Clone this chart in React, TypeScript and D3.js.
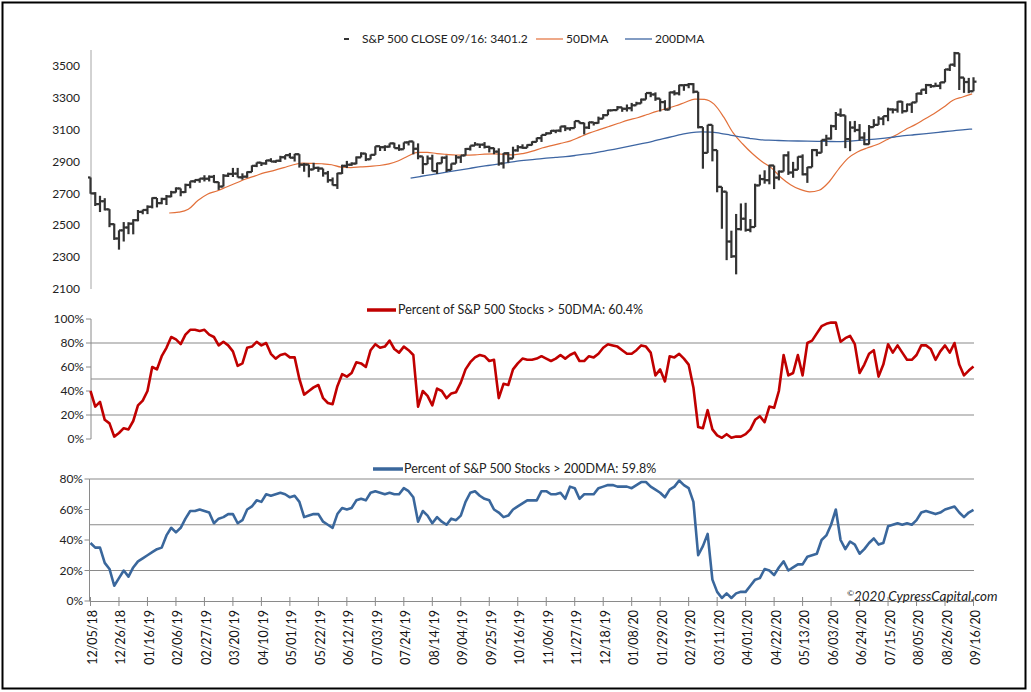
import { useEffect, useRef } from 'react';
import * as d3 from 'd3';

const W = 1031;
const H = 692;
const FONT = 'Lato, "Open Sans", sans-serif';

const startDate = new Date(2018, 11, 5);
const endDate = new Date(2020, 8, 16);

const tickLabels = [
  '12/05/18', '12/26/18', '01/16/19', '02/06/19', '02/27/19', '03/20/19', '04/10/19', '05/01/19',
  '05/22/19', '06/12/19', '07/03/19', '07/24/19', '08/14/19', '09/04/19', '09/25/19', '10/16/19',
  '11/06/19', '11/27/19', '12/18/19', '01/08/20', '01/29/20', '02/19/20', '03/11/20', '04/01/20',
  '04/22/20', '05/13/20', '06/03/20', '06/24/20', '07/15/20', '08/05/20', '08/26/20', '09/16/20',
];

const priceTicks = [2100, 2300, 2500, 2700, 2900, 3100, 3300, 3500];
const pct50Ticks = [0, 20, 40, 60, 80, 100];
const pct200Ticks = [0, 20, 40, 60, 80];
const gridLevels = [20, 50, 80];

// S&P 500, twice a week (Wed / Fri), 12/05/18 .. 09/16/20
const spxClose = [
  2700, 2633, 2651, 2600, 2507, 2417, 2468, 2486, 2510, 2532,
  2584, 2596, 2616, 2671, 2639, 2665, 2681, 2707, 2731, 2708,
  2753, 2776, 2784, 2793, 2792, 2804, 2771, 2743, 2811, 2822,
  2824, 2801, 2805, 2834, 2873, 2893, 2888, 2907, 2900, 2905,
  2927, 2940, 2924, 2946, 2880, 2881, 2850, 2860, 2856, 2826,
  2783, 2752, 2826, 2873, 2880, 2887, 2926, 2950, 2914, 2942,
  2996, 2990, 2993, 3014, 2984, 2977, 3020, 3026, 2980, 2932,
  2884, 2919, 2840, 2889, 2924, 2847, 2887, 2926, 2938, 2979,
  3000, 3007, 3006, 2992, 2984, 2962, 2888, 2952, 2919, 2970,
  2990, 2986, 3004, 3023, 3047, 3067, 3077, 3093, 3094, 3120,
  3108, 3110, 3154, 3141, 3113, 3146, 3142, 3169, 3191, 3221,
  3223, 3240, 3231, 3235, 3253, 3265, 3289, 3330, 3321, 3295,
  3273, 3226, 3334, 3328, 3379, 3380, 3386, 3338, 3116, 2954,
  3130, 2972, 2741, 2711, 2398, 2305, 2476, 2541, 2471, 2489,
  2750, 2790, 2783, 2875, 2799, 2837, 2939, 2831, 2848, 2930,
  2820, 2864, 2972, 2955, 3036, 3044, 3122, 3194, 3190, 3041,
  3113, 3098, 3050, 3009, 3116, 3130, 3169, 3185, 3227, 3225,
  3276, 3216, 3258, 3271, 3327, 3351, 3380, 3373, 3375, 3397,
  3478, 3508, 3580, 3427, 3399, 3341, 3401.2,
];

const spxHigh = [
  2800, 2708, 2685, 2670, 2601, 2510, 2468, 2520, 2519, 2538,
  2596, 2598, 2625, 2675, 2653, 2673, 2690, 2716, 2738, 2727,
  2761, 2776, 2787, 2795, 2814, 2813, 2816, 2772, 2821, 2830,
  2860, 2860, 2826, 2838, 2876, 2894, 2896, 2910, 2921, 2908,
  2936, 2940, 2954, 2948, 2931, 2891, 2860, 2892, 2868, 2843,
  2841, 2800, 2829, 2880, 2904, 2895, 2932, 2958, 2952, 2944,
  2996, 2990, 3002, 3014, 3018, 3007, 3020, 3028, 3026, 3014,
  2898, 2938, 2943, 2893, 2931, 2939, 2888, 2941, 2938, 2985,
  3000, 3022, 3010, 3022, 2999, 2987, 2983, 2953, 2959, 2993,
  3003, 3008, 3008, 3027, 3050, 3067, 3084, 3097, 3098, 3121,
  3127, 3112, 3154, 3151, 3144, 3150, 3143, 3182, 3198, 3226,
  3227, 3248, 3240, 3258, 3268, 3275, 3295, 3330, 3337, 3334,
  3293, 3285, 3338, 3347, 3382, 3381, 3393, 3392, 3260, 3097,
  3131, 3083, 2883, 2711, 2562, 2466, 2571, 2637, 2641, 2539,
  2761, 2818, 2845, 2880, 2868, 2844, 2945, 2964, 2898, 2932,
  2945, 2866, 2978, 2978, 3036, 3068, 3131, 3211, 3233, 3123,
  3153, 3155, 3135, 3084, 3129, 3166, 3184, 3186, 3238, 3233,
  3279, 3279, 3264, 3272, 3330, 3352, 3387, 3387, 3395, 3399,
  3481, 3509, 3588, 3565, 3425, 3425, 3429,
];

const spxLow = [
  2698, 2621, 2583, 2593, 2488, 2408, 2347, 2398, 2444, 2443,
  2525, 2569, 2570, 2606, 2612, 2632, 2627, 2676, 2705, 2682,
  2703, 2732, 2767, 2767, 2775, 2775, 2767, 2722, 2747, 2803,
  2803, 2800, 2786, 2798, 2845, 2865, 2872, 2880, 2897, 2891,
  2897, 2912, 2921, 2900, 2862, 2836, 2801, 2848, 2835, 2805,
  2767, 2750, 2728, 2822, 2859, 2873, 2883, 2931, 2903, 2917,
  2953, 2966, 2966, 2988, 2984, 2967, 2977, 3001, 2945, 2914,
  2822, 2890, 2839, 2822, 2891, 2834, 2856, 2907, 2891, 2960,
  2969, 3002, 2985, 2982, 2957, 2946, 2874, 2856, 2893, 2919,
  2962, 2980, 2990, 3001, 3027, 3023, 3066, 3073, 3078, 3084,
  3091, 3094, 3117, 3139, 3070, 3104, 3126, 3138, 3184, 3191,
  3217, 3227, 3212, 3214, 3215, 3256, 3264, 3301, 3304, 3281,
  3214, 3222, 3235, 3315, 3315, 3344, 3360, 3328, 3108, 2855,
  2977, 2901, 2707, 2478, 2281, 2295, 2192, 2467, 2460, 2456,
  2582, 2762, 2761, 2757, 2727, 2782, 2838, 2816, 2798, 2871,
  2813, 2766, 2915, 2933, 2969, 2997, 3038, 3098, 3180, 2984,
  2965, 3084, 3032, 3003, 3007, 3124, 3137, 3128, 3153, 3202,
  3207, 3201, 3213, 3205, 3284, 3318, 3324, 3362, 3371, 3354,
  3418, 3468, 3494, 3349, 3331, 3329, 3361,
];

// 50-day average, weekly from 02/01/19 to 09/15/20
const dma50Start = new Date(2019, 1, 1);
const dma50End = new Date(2020, 8, 15);
const dma50 = [
  2577, 2582, 2600, 2655, 2695, 2715, 2740, 2765, 2790, 2810,
  2830, 2845, 2862, 2880, 2890, 2888, 2886, 2880, 2865, 2862,
  2866, 2870, 2875, 2885, 2905, 2935, 2958, 2958, 2950, 2945,
  2941, 2940, 2942, 2946, 2948, 2945, 2942, 2950, 2965, 2985,
  3000, 3015, 3030, 3055, 3080, 3100, 3120, 3140, 3160, 3175,
  3195, 3215, 3232, 3250, 3272, 3292, 3290, 3260, 3180, 3080,
  3010, 2950, 2900, 2860, 2800, 2755, 2725, 2710, 2720, 2770,
  2850, 2920, 2960, 2985, 3005, 3035, 3065, 3100, 3130, 3165,
  3200, 3240, 3285, 3305, 3325,
];

// 200-day average, weekly from 07/29/19 to 09/15/20
const dma200Start = new Date(2019, 6, 29);
const dma200End = new Date(2020, 8, 15);
const dma200 = [
  2796, 2806, 2816, 2826, 2836, 2846, 2856, 2866, 2875, 2884,
  2893, 2902, 2909, 2915, 2921, 2926, 2931, 2938, 2946, 2955,
  2966, 2977, 2989, 3002, 3014, 3027, 3042, 3056, 3070, 3082,
  3086, 3085, 3077, 3066, 3055, 3046, 3038, 3034, 3032, 3030,
  3029, 3028, 3027, 3026, 3025, 3027, 3031, 3036, 3041, 3047,
  3054, 3062, 3068, 3074, 3080, 3087, 3093, 3099, 3104,
];

// percent of S&P 500 stocks above their 50DMA (same dates as spxClose)
const pctAbove50 = [
  40, 27, 31, 16, 13, 2, 5, 9, 8, 15,
  28, 32, 40, 60, 58, 69, 76, 85, 83, 79,
  87, 91, 91, 90, 91, 87, 85, 78, 81, 78,
  73, 61, 63, 76, 77, 81, 78, 80, 71, 67,
  70, 71, 68, 68, 50, 37, 40, 43, 45, 34,
  30, 29, 44, 54, 52, 55, 64, 63, 60, 74,
  79, 76, 77, 82, 75, 72, 77, 74, 70, 27,
  40, 36, 28, 42, 40, 34, 38, 39, 47, 58,
  64, 68, 70, 69, 65, 66, 34, 46, 45, 58,
  63, 67, 66, 66, 67, 69, 67, 65, 67, 70,
  67, 70, 72, 65, 65, 69, 68, 71, 76, 79,
  78, 77, 74, 71, 71, 74, 78, 77, 72, 53,
  58, 48, 69, 68, 71, 67, 62, 43, 10, 9,
  24, 8, 3, 1, 4, 1, 2, 2, 4, 8,
  16, 19, 14, 27, 26, 40, 70, 53, 55, 70,
  53, 80, 82, 88, 94, 96, 97, 97, 81, 84,
  86, 79, 55, 62, 71, 74, 52, 62, 79, 72,
  78, 72, 66, 66, 70, 78, 78, 75, 66, 73,
  78, 72, 80, 62, 53, 57, 60.4,
];

// percent of S&P 500 stocks above their 200DMA
const pctAbove200 = [
  38, 35, 35, 25, 21, 10, 15, 20, 16, 22,
  26, 28, 30, 32, 34, 35, 43, 48, 45, 48,
  54, 59, 59, 60, 59, 58, 51, 54, 55, 57,
  57, 51, 53, 60, 62, 66, 65, 70, 69, 70,
  71, 70, 68, 69, 65, 55, 56, 57, 57, 52,
  50, 48, 57, 61, 60, 61, 66, 67, 66, 71,
  72, 71, 70, 71, 70, 70, 74, 72, 68, 52,
  59, 56, 51, 55, 52, 50, 54, 53, 56, 65,
  71, 72, 69, 67, 66, 60, 58, 55, 56, 60,
  62, 64, 66, 66, 66, 72, 72, 70, 70, 71,
  67, 75, 74, 67, 70, 70, 70, 74, 75, 76,
  76, 75, 75, 75, 74, 76, 78, 78, 75, 73,
  71, 68, 73, 75, 79, 76, 74, 65, 30, 36,
  44, 14, 6, 2, 5, 2, 5, 6, 6, 10,
  14, 15, 21, 20, 17, 22, 26, 20, 22, 24,
  24, 29, 30, 31, 40, 43, 50, 60, 40, 34,
  39, 37, 31, 34, 38, 41, 37, 38, 49, 50,
  51, 50, 51, 50, 53, 58, 59, 58, 57, 58,
  60, 61, 62, 58, 55, 58, 59.8,
];

const spanDate = (s: Date, e: Date, n: number) => (i: number) =>
  new Date(+s + (i * (+e - +s)) / (n - 1));

export default function App() {
  const svgRef = useRef<SVGSVGElement>(null);

  useEffect(() => {
    if (!svgRef.current) return;
    const svg = d3.select(svgRef.current);
    svg.selectAll('*').remove();

    svg.append('rect').attr('width', W).attr('height', H).attr('fill', '#fff');
    svg.append('rect')
      .attr('x', 2.5).attr('y', 2.5).attr('width', 1023).attr('height', 686)
      .attr('fill', 'none').attr('stroke', '#000').attr('stroke-width', 2);

    const x = d3.scaleTime().domain([startDate, endDate]).range([90.5, 973.5]);
    const sDate = spanDate(startDate, endDate, spxClose.length);
    const d50Date = spanDate(dma50Start, dma50End, dma50.length);
    const d200Date = spanDate(dma200Start, dma200End, dma200.length);

    // ---------- top panel: price ----------
    const yP = d3.scaleLinear().domain([2100, 3600]).range([289, 50]);

    svg.append('line')
      .attr('x1', 91).attr('x2', 91).attr('y1', yP(3600)).attr('y2', yP(2100))
      .attr('stroke', '#a6a6a6');

    svg.append('g').selectAll('text').data(priceTicks).enter().append('text')
      .attr('x', 80).attr('y', d => yP(d)).attr('dy', '0.35em')
      .attr('text-anchor', 'end').attr('font-family', FONT).attr('font-size', 12)
      .attr('fill', '#222').text(d => d);

    const dmaLine = d3.line<number>().curve(d3.curveMonotoneX);

    svg.append('path')
      .attr('d', dmaLine.x((_, i) => x(d50Date(i))).y(d => yP(d))(dma50))
      .attr('fill', 'none').attr('stroke', '#e2703a').attr('stroke-width', 1.2);
    svg.append('path')
      .attr('d', dmaLine.x((_, i) => x(d200Date(i))).y(d => yP(d))(dma200))
      .attr('fill', 'none').attr('stroke', '#3e66a3').attr('stroke-width', 1.3);

    const bars = svg.append('g').attr('stroke', '#333').attr('stroke-width', 2.2);
    spxClose.forEach((c, i) => {
      const open = i === 0 ? spxHigh[0] : spxClose[i - 1];
      const hi = Math.max(spxHigh[i], open, c);
      const lo = Math.min(spxLow[i], open, c);
      const bx = x(sDate(i));
      bars.append('line').attr('x1', bx).attr('x2', bx).attr('y1', yP(hi)).attr('y2', yP(lo));
      bars.append('line').attr('x1', bx - 2.5).attr('x2', bx).attr('y1', yP(open)).attr('y2', yP(open));
      bars.append('line').attr('x1', bx).attr('x2', bx + 3).attr('y1', yP(c)).attr('y2', yP(c));
    });

    // legend
    const leg = svg.append('g').attr('font-family', FONT).attr('font-size', 12).attr('fill', '#222');
    leg.append('line').attr('x1', 344).attr('x2', 349).attr('y1', 39).attr('y2', 39)
      .attr('stroke', '#333').attr('stroke-width', 2);
    leg.append('text').attr('x', 362).attr('y', 39).attr('dy', '0.35em')
      .text(`S&P 500 CLOSE 09/16: ${spxClose[spxClose.length - 1].toFixed(1)}`);
    leg.append('line').attr('x1', 536).attr('x2', 563).attr('y1', 39).attr('y2', 39)
      .attr('stroke', '#e2703a').attr('stroke-width', 1.2);
    leg.append('text').attr('x', 566).attr('y', 39).attr('dy', '0.35em').text('50DMA');
    leg.append('line').attr('x1', 625).attr('x2', 652).attr('y1', 39).attr('y2', 39)
      .attr('stroke', '#3e66a3').attr('stroke-width', 1.3);
    leg.append('text').attr('x', 655).attr('y', 39).attr('dy', '0.35em').text('200DMA');

    // ---------- middle panel: % above 50DMA ----------
    const y50 = d3.scaleLinear().domain([0, 100]).range([439, 319]);
    const g2 = svg.append('g');
    g2.selectAll('line.grid').data(gridLevels).enter().append('line')
      .attr('x1', 91).attr('x2', 974).attr('y1', d => y50(d)).attr('y2', d => y50(d))
      .attr('stroke', '#8a8a8a').attr('stroke-width', 1.2);
    g2.append('line').attr('x1', 91).attr('x2', 91).attr('y1', y50(100)).attr('y2', y50(0))
      .attr('stroke', '#8a8a8a');
    g2.selectAll('line.tick').data(pct50Ticks).enter().append('line')
      .attr('x1', 86).attr('x2', 91).attr('y1', d => y50(d)).attr('y2', d => y50(d))
      .attr('stroke', '#8a8a8a');
    g2.selectAll('text').data(pct50Ticks).enter().append('text')
      .attr('x', 84).attr('y', d => y50(d)).attr('dy', '0.35em').attr('text-anchor', 'end')
      .attr('font-family', FONT).attr('font-size', 12).attr('fill', '#222').text(d => `${d}%`);

    g2.append('path')
      .attr('d', d3.line<number>().x((_, i) => x(sDate(i))).y(d => y50(d))(pctAbove50))
      .attr('fill', 'none').attr('stroke', '#c00000').attr('stroke-width', 2.6)
      .attr('stroke-linejoin', 'round');

    g2.append('line').attr('x1', 367).attr('x2', 396).attr('y1', 310).attr('y2', 310)
      .attr('stroke', '#c00000').attr('stroke-width', 3.5);
    g2.append('text').attr('x', 398).attr('y', 310).attr('dy', '0.35em')
      .attr('font-family', FONT).attr('font-size', 12.5).attr('fill', '#222')
      .text(`Percent of S&P 500 Stocks > 50DMA: ${pctAbove50[pctAbove50.length - 1].toFixed(1)}%`);

    // ---------- bottom panel: % above 200DMA ----------
    const y200 = d3.scaleLinear().domain([0, 80]).range([601, 479]);
    const g3 = svg.append('g');
    g3.selectAll('line.grid').data(gridLevels).enter().append('line')
      .attr('x1', 89.5).attr('x2', 974).attr('y1', d => y200(d)).attr('y2', d => y200(d))
      .attr('stroke', '#8a8a8a').attr('stroke-width', 1.2);
    g3.append('line').attr('x1', 89.5).attr('x2', 89.5).attr('y1', y200(80)).attr('y2', y200(0))
      .attr('stroke', '#8a8a8a');
    g3.selectAll('line.tick').data(pct200Ticks).enter().append('line')
      .attr('x1', 84.5).attr('x2', 89.5).attr('y1', d => y200(d)).attr('y2', d => y200(d))
      .attr('stroke', '#8a8a8a');
    g3.selectAll('text.yl').data(pct200Ticks).enter().append('text')
      .attr('x', 83).attr('y', d => y200(d)).attr('dy', '0.35em').attr('text-anchor', 'end')
      .attr('font-family', FONT).attr('font-size', 12).attr('fill', '#222').text(d => `${d}%`);

    // x axis
    const parse = d3.timeParse('%m/%d/%y');
    const tickDates = tickLabels.map(l => parse(l) as Date);
    g3.append('line').attr('x1', 89.5).attr('x2', 974).attr('y1', 601.5).attr('y2', 601.5)
      .attr('stroke', '#8a8a8a');
    g3.selectAll('line.xt').data(tickDates).enter().append('line')
      .attr('x1', d => x(d)).attr('x2', d => x(d)).attr('y1', 597).attr('y2', 606)
      .attr('stroke', '#8a8a8a');
    g3.selectAll('text.xl').data(tickLabels).enter().append('text')
      .attr('transform', (_, i) => `translate(${x(tickDates[i]) + 6.5},610) rotate(-90)`)
      .attr('text-anchor', 'end').attr('font-family', FONT).attr('font-size', 12.5)
      .attr('fill', '#111').text(d => d);

    g3.append('path')
      .attr('d', d3.line<number>().x((_, i) => x(sDate(i))).y(d => y200(d))(pctAbove200))
      .attr('fill', 'none').attr('stroke', '#3a679c').attr('stroke-width', 2.6)
      .attr('stroke-linejoin', 'round');

    g3.append('line').attr('x1', 373).attr('x2', 403).attr('y1', 469).attr('y2', 469)
      .attr('stroke', '#3a679c').attr('stroke-width', 3.5);
    g3.append('text').attr('x', 404).attr('y', 469).attr('dy', '0.35em')
      .attr('font-family', FONT).attr('font-size', 12.5).attr('fill', '#222')
      .text(`Percent of S&P 500 Stocks > 200DMA: ${pctAbove200[pctAbove200.length - 1].toFixed(1)}%`);

    const copy = g3.append('text').attr('x', 847).attr('y', 601)
      .attr('font-family', FONT).attr('font-size', 13.4).attr('font-style', 'italic')
      .attr('fill', '#222');
    copy.append('tspan').attr('font-size', 8.5).attr('dy', -5).text('©');
    copy.append('tspan').attr('dy', 5).text('2020 CypressCapital.com');
  }, []);

  return (
    <div style={{ position: 'absolute', left: 0, top: 0 }}>
      <svg ref={svgRef} width={W} height={H}></svg>
    </div>
  );
}
